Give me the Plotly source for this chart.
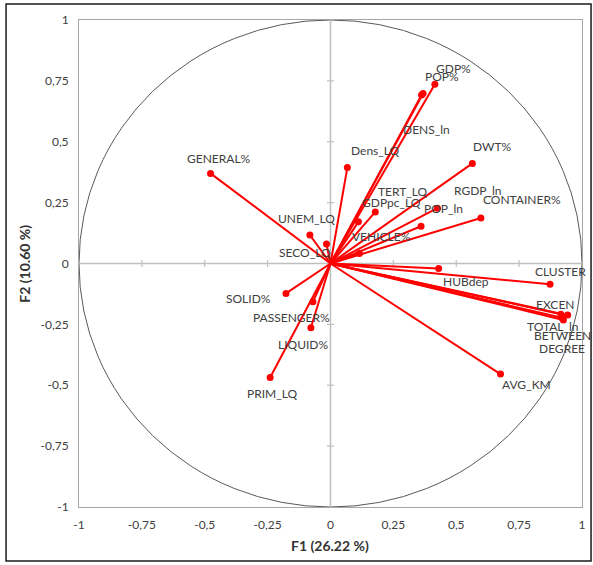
import plotly.graph_objects as go

# Variable names and loadings on F1 / F2
variables = ["GDP%", "POP%", "DENS_ln", "Dens_LQ", "DWT%", "GENERAL%", "TERT_LQ", "GDPpc_LQ",
             "RGDP_ln", "POP_ln", "CONTAINER%", "VEHICLE%", "UNEM_LQ", "SECO_LQ", "CLUSTER",
             "HUBdep", "EXCEN", "TOTAL_ln", "BETWEEN", "DEGREE", "AVG_KM", "SOLID%",
             "PASSENGER%", "LIQUID%", "PRIM_LQ"]
f1 = [0.415, 0.368, 0.362, 0.067, 0.564, -0.477, 0.178, 0.111,
      0.425, 0.360, 0.598, 0.115, -0.082, -0.016, 0.873,
      0.430, 0.943, 0.916, 0.926, 0.920, 0.676, -0.177,
      -0.070, -0.078, -0.240]
f2 = [0.736, 0.698, 0.692, 0.394, 0.411, 0.370, 0.212, 0.171,
      0.227, 0.153, 0.187, 0.041, 0.117, 0.080, -0.085,
      -0.021, -0.212, -0.208, -0.232, -0.223, -0.454, -0.123,
      -0.157, -0.264, -0.468]
# label pixel offsets (style only)
label_dx = [19, 19, 5, 28, 20, 8, 28, 33, 41, 22, 41, 22, -3, -21, 10,
            27, -13, -8, -1, 0, 26, -37, -21, -8, 2]
label_dy = [16, 17, -34, 17, 17, 15, 20, 19, 18, 18, 18, 17, 17, -8, 13,
            -13, 11, -12, -16, -31, -10, -5, -16, -17, -16]

tick_vals = [-1, -0.75, -0.5, -0.25, 0, 0.25, 0.5, 0.75, 1]
tick_text = ["-1", "-0,75", "-0,5", "-0,25", "0", "0,25", "0,5", "0,75", "1"]

RED = "#ff0000"
GREY = "#bfbfbf"
FONT = "Lato"

fig = go.Figure()

lx, ly = [], []
for x, y in zip(f1, f2):
    lx += [0, x, None]
    ly += [0, y, None]
fig.add_trace(go.Scatter(x=lx, y=ly, mode="lines", line=dict(color=RED, width=2),
                         hoverinfo="skip", showlegend=False, cliponaxis=False))
fig.add_trace(go.Scatter(x=f1, y=f2, mode="markers", text=variables,
                         marker=dict(color=RED, size=7), showlegend=False, cliponaxis=False))

# unit circle
fig.add_shape(type="circle", xref="x", yref="y", x0=-1, y0=-1, x1=1, y1=1,
              line=dict(color="#595959", width=1), layer="below")
# zero axes with small tick marks
fig.add_shape(type="line", xref="x", yref="y", x0=-1, x1=1, y0=0, y1=0,
              line=dict(color=GREY, width=1.5), layer="below")
fig.add_shape(type="line", xref="x", yref="y", x0=0, x1=0, y0=-1, y1=1,
              line=dict(color=GREY, width=1.5), layer="below")
for t in tick_vals:
    if t in (-1, 0, 1):
        continue
    fig.add_shape(type="line", xref="x", yref="y", x0=t, x1=t, y0=-0.014, y1=0.014,
                  line=dict(color=GREY, width=1.2), layer="below")
    fig.add_shape(type="line", xref="x", yref="y", x0=-0.014, x1=0.014, y0=t, y1=t,
                  line=dict(color=GREY, width=1.2), layer="below")

for name, x, y, dx, dy in zip(variables, f1, f2, label_dx, label_dy):
    fig.add_annotation(x=x, y=y, text=name, showarrow=False, xshift=dx, yshift=dy,
                       font=dict(family=FONT, size=12, color="#404040"))

# axis titles
fig.add_annotation(xref="paper", yref="paper", x=0.499, y=-0.079, text="<b>F1 (26.22 %)</b>",
                   xanchor="center", yanchor="middle",
                   showarrow=False, font=dict(family=FONT, size=14, color="#333333"))
fig.add_annotation(xref="paper", yref="paper", x=-0.109, y=0.5, text="<b>F2 (10.60 %)</b>",
                   xanchor="center", yanchor="middle",
                   textangle=-90, showarrow=False, font=dict(family=FONT, size=14, color="#333333"))

# outer border of the picture
fig.add_shape(type="rect", xref="paper", yref="paper",
              x0=-0.145, x1=1.018, y0=-0.111, y1=1.033,
              line=dict(color="#1a1a1a", width=1.5))

axis_common = dict(range=[-1, 1], tickvals=tick_vals, ticktext=tick_text,
                   showgrid=False, zeroline=False, showline=True, mirror=True,
                   linecolor="#a6a6a6", linewidth=1, ticks="outside", ticklen=7,
                   tickcolor="rgba(0,0,0,0)", automargin=False,
                   tickfont=dict(family=FONT, size=12, color="#404040"))
fig.update_xaxes(**axis_common)
fig.update_yaxes(**axis_common)

fig.update_layout(width=593, height=565, margin=dict(l=79, r=11, t=20, b=58),
                  paper_bgcolor="white", plot_bgcolor="white",
                  font=dict(family=FONT))

fig.write_html("out.html", config={"displayModeBar": False},
               post_script="document.body.style.margin='0';document.body.style.padding='0';")
